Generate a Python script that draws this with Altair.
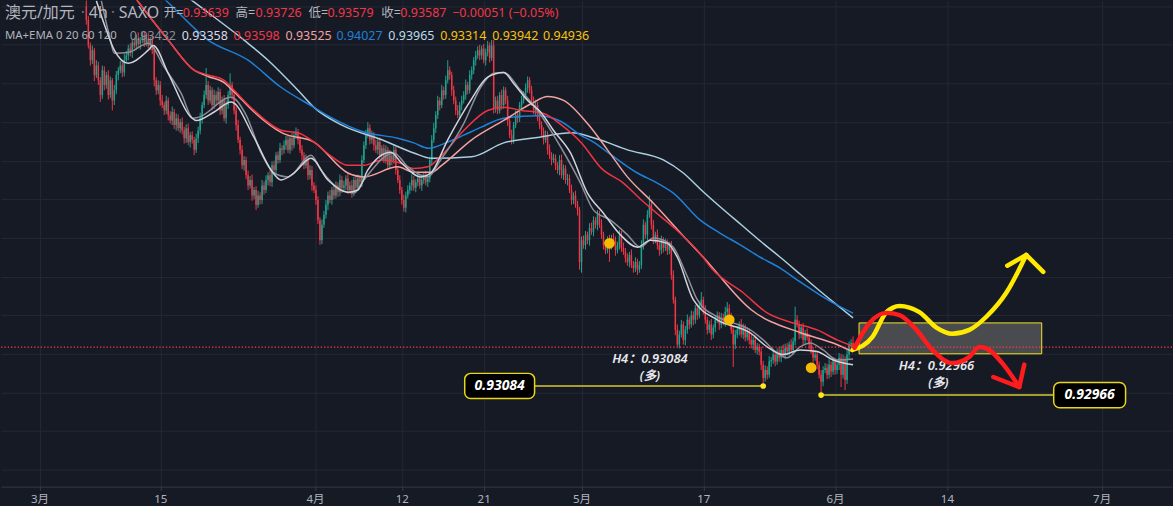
import altair as alt
import pandas as pd

FONT = "Noto Sans, Noto Sans CJK SC"
BG = "#161a25"
GRID = "#242835"
UP_COL = "#1fa38f"
DOWN_COL = "#f23645"
TXT = "#b2b5be"

# ---------------- candle data (prices in 1e-4 units) ----------------
FIRST_BAR = 42
FIRST_OPEN = 9800
close_pips = [
    9782, 9749, 9730, 9743, 9711, 9723, 9704, 9685, 9717, 9698,
    9711, 9685, 9704, 9678, 9691, 9711, 9717, 9723, 9714, 9730,
    9736, 9745, 9740, 9753, 9749, 9758, 9751, 9756, 9762, 9753,
    9758, 9749, 9756, 9743, 9704, 9691, 9698, 9678, 9672, 9665,
    9678, 9659, 9652, 9663, 9646, 9655, 9642, 9650, 9639, 9629,
    9642, 9624, 9633, 9627, 9614, 9629, 9639, 9655, 9672, 9685,
    9698, 9678, 9691, 9672, 9685, 9678, 9689, 9665, 9678, 9655,
    9672, 9685, 9698, 9685, 9665, 9646, 9627, 9614, 9594, 9601,
    9581, 9568, 9575, 9555, 9562, 9543, 9555, 9549, 9568, 9562,
    9575, 9581, 9572, 9594, 9588, 9607, 9601, 9616, 9614, 9620,
    9627, 9614, 9629, 9620, 9633, 9637, 9627, 9614, 9607, 9594,
    9601, 9581, 9588, 9568, 9562, 9549, 9523, 9497, 9517, 9530,
    9543, 9555, 9549, 9562, 9555, 9568, 9559, 9575, 9565, 9568,
    9577, 9562, 9568, 9559, 9575, 9565, 9577, 9572, 9601, 9620,
    9633, 9642, 9627, 9633, 9620, 9614, 9624, 9607, 9616, 9601,
    9614, 9594, 9607, 9601, 9614, 9588, 9575, 9562, 9549, 9539,
    9555, 9562, 9568, 9575, 9565, 9572, 9577, 9568, 9575, 9581,
    9572, 9577, 9601, 9627, 9642, 9659, 9678, 9672, 9691, 9685,
    9704, 9717, 9711, 9691, 9678, 9665, 9659, 9672, 9678, 9685,
    9698, 9691, 9711, 9717, 9730, 9736, 9743, 9736, 9745, 9730,
    9740, 9749, 9733, 9749, 9668, 9678, 9665, 9685, 9672, 9691,
    9678, 9652, 9633, 9627, 9646, 9659, 9655, 9672, 9678, 9685,
    9694, 9704, 9691, 9678, 9665, 9672, 9655, 9646, 9639, 9627,
    9633, 9614, 9607, 9601, 9603, 9594, 9588, 9601, 9581, 9590,
    9575, 9577, 9562, 9549, 9555, 9543, 9536, 9469, 9497, 9491,
    9504, 9497, 9513, 9508, 9523, 9517, 9530, 9517, 9504, 9491,
    9484, 9497, 9491, 9500, 9497, 9484, 9491, 9504, 9487, 9482,
    9474, 9469, 9478, 9465, 9461, 9469, 9459, 9465, 9491, 9517,
    9504, 9530, 9543, 9517, 9497, 9504, 9491, 9484, 9497, 9487,
    9493, 9484, 9491, 9452, 9420, 9381, 9362, 9375, 9388, 9368,
    9381, 9394, 9388, 9400, 9394, 9409, 9400, 9413, 9420, 9407,
    9394, 9381, 9388, 9375, 9384, 9394, 9400, 9388, 9397, 9391,
    9404, 9409, 9397, 9381, 9362, 9375, 9381, 9388, 9375, 9384,
    9371, 9378, 9368, 9362, 9368, 9355, 9359, 9353, 9336, 9319,
    9329, 9323, 9340, 9342, 9349, 9340, 9353, 9345, 9355, 9349,
    9358, 9353, 9362, 9355, 9366, 9394, 9388, 9375, 9384, 9368,
    9377, 9371, 9362, 9355, 9345, 9349, 9336, 9323, 9314, 9329,
    9332, 9323, 9336, 9327, 9340, 9329, 9336, 9345, 9323, 9342,
    9316, 9349, 9362, 9363.9, 9358.7,
]
wick_hi = [
    8, 5, 4, 6, 3, 7, 5, 4, 6, 5,
    4, 6, 5, 3, 7, 5, 4, 6, 5, 8,
    6, 5, 7, 4, 6, 5, 8, 4, 6, 5,
    5, 7, 4, 6, 5, 4, 6, 5, 7, 4,
    6, 4, 5, 7, 4, 6, 5, 4, 6, 5,
    5, 6, 4, 5, 4, 6, 5, 7, 4, 6,
    22, 5, 6, 4, 7, 5, 6, 4, 5, 7,
    6, 5, 15, 4, 6, 5, 7, 4, 6, 5,
    4, 6, 5, 7, 4, 5, 6, 4, 7, 5,
    6, 4, 7, 5, 6, 4, 5, 7, 4, 6,
    5, 6, 4, 7, 5, 6, 4, 5, 6, 4,
    7, 4, 6, 5, 4, 6, 5, 4, 7, 5,
    6, 5, 7, 4, 6, 5, 4, 7, 5, 6,
    4, 6, 5, 7, 4, 6, 5, 4, 6, 5,
    7, 8, 5, 6, 4, 7, 5, 6, 4, 5,
    6, 4, 7, 5, 6, 4, 5, 6, 4, 7,
    5, 6, 4, 7, 5, 4, 6, 5, 7, 4,
    6, 5, 4, 6, 7, 5, 6, 4, 7, 5,
    6, 13, 5, 4, 6, 5, 7, 4, 6, 5,
    7, 4, 6, 5, 4, 6, 5, 7, 4, 6,
    5, 6, 4, 7, 7, 5, 6, 4, 7, 5,
    4, 6, 5, 7, 4, 6, 5, 4, 6, 5,
    6, 5, 4, 6, 5, 7, 4, 6, 5, 4,
    6, 5, 7, 4, 6, 5, 4, 6, 7, 5,
    4, 6, 5, 7, 4, 6, 5, 4, 5, 6,
    5, 4, 6, 7, 5, 4, 6, 5, 7, 4,
    6, 5, 7, 4, 6, 5, 4, 6, 5, 7,
    5, 6, 4, 7, 5, 6, 4, 5, 6, 7,
    4, 6, 12, 5, 6, 4, 7, 5, 6, 4,
    6, 5, 4, 5, 6, 4, 7, 5, 6, 4,
    5, 7, 4, 6, 5, 4, 6, 5, 10, 4,
    6, 4, 5, 7, 4, 6, 5, 4, 6, 5,
    7, 8, 5, 6, 4, 6, 5, 4, 7, 5,
    4, 6, 5, 7, 4, 6, 5, 4, 6, 5,
    6, 5, 7, 4, 6, 5, 4, 6, 5, 7,
    5, 6, 4, 7, 5, 17, 6, 5, 4, 6,
    4, 6, 5, 7, 4, 6, 5, 4, 6, 5,
    6, 5, 7, 4, 6, 5, 4, 6, 5, 7,
    5, 6, 4, 5, 8.7,
]
wick_lo = [
    6, 4, 7, 5, 8, 4, 6, 9, 5, 7,
    5, 6, 4, 13, 6, 5, 7, 4, 6, 5,
    4, 6, 5, 7, 4, 6, 5, 7, 4, 6,
    5, 4, 6, 5, 8, 6, 5, 7, 4, 6,
    5, 7, 4, 6, 5, 7, 4, 6, 5, 7,
    6, 4, 7, 5, 7, 4, 6, 5, 7, 4,
    5, 6, 4, 7, 5, 6, 4, 6, 5, 4,
    7, 5, 4, 6, 5, 7, 4, 6, 5, 7,
    5, 6, 4, 7, 5, 7, 4, 6, 5, 6,
    4, 7, 5, 6, 4, 6, 5, 4, 7, 5,
    6, 4, 5, 7, 4, 5, 6, 4, 7, 5,
    4, 6, 5, 7, 4, 6, 5, 6, 5, 4,
    5, 7, 4, 6, 5, 4, 6, 5, 7, 4,
    6, 5, 4, 7, 5, 6, 4, 5, 6, 4,
    5, 4, 6, 5, 7, 4, 6, 5, 7, 4,
    5, 6, 4, 7, 5, 6, 4, 5, 6, 5,
    6, 4, 5, 7, 4, 6, 5, 4, 7, 5,
    4, 6, 5, 7, 4, 6, 5, 7, 4, 6,
    5, 4, 6, 7, 5, 6, 4, 5, 7, 4,
    6, 5, 4, 6, 5, 7, 4, 6, 5, 4,
    7, 5, 6, 4, 7, 6, 5, 4, 6, 5,
    5, 7, 4, 6, 5, 4, 6, 5, 7, 4,
    5, 6, 4, 7, 5, 6, 4, 5, 7, 6,
    4, 6, 5, 7, 4, 6, 5, 7, 4, 6,
    5, 7, 4, 6, 5, 4, 7, 10, 14, 5,
    6, 5, 7, 4, 6, 5, 7, 4, 5, 6,
    5, 4, 22, 6, 5, 7, 4, 6, 5, 4,
    6, 5, 7, 4, 6, 5, 7, 4, 5, 6,
    5, 7, 4, 6, 5, 4, 6, 7, 5, 6,
    4, 6, 5, 6, 5, 7, 3, 5, 4, 6,
    7, 5, 6, 4, 7, 5, 6, 4, 5, 6,
    5, 6, 4, 7, 5, 6, 4, 7, 5, 4,
    6, 5, 4, 5, 29, 6, 5, 7, 4, 6,
    5, 4, 6, 5, 7, 4, 6, 5, 7, 10.6,
    5, 6, 4, 7, 5, 6, 4, 5, 6, 4,
    6, 5, 7, 4, 6, 5, 4, 6, 5, 7,
    5, 4, 6, 5, 7, 4, 6, 5, 17.4, 6,
    4, 6, 5, 7, 4, 6, 5, 7, 16, 5,
    13, 5, 6, 4, 0.8,
]

# ---------------- moving averages (bar index, price 1e-4) ----------------
ma20_idx = [49.5, 53.5, 56, 63, 73, 81, 89.5, 95.5, 98, 114.5, 122, 129.5, 136, 143, 154.5, 159.5, 169.5,
            176, 181, 196, 203, 213, 219.5, 231, 239.5, 246, 251, 259.5, 268, 279.5, 289.5, 296, 304.5,
            313, 319.5, 326, 331, 336, 343, 348, 358, 366, 374.5, 381, 388, 393, 399.5, 404.5, 411, 418, 426]
ma20_val = [9807, 9762, 9739, 9740, 9752, 9721, 9687, 9655, 9656, 9682, 9659, 9610, 9584, 9579, 9607, 9588, 9562,
            9558, 9575, 9610, 9592, 9579, 9601, 9648, 9695, 9713, 9714, 9691, 9665, 9618, 9571, 9536, 9523,
            9504, 9488, 9500, 9497, 9488, 9450, 9420, 9398, 9390, 9381, 9368, 9351, 9345, 9359, 9364, 9355, 9342, 9343.2]
ema20_idx = [47, 52, 56, 63, 73, 75.5, 83, 94.5, 97, 106, 114.5, 126, 134.5, 139.5, 146, 154.5, 163, 173, 178,
             183, 194.5, 199.5, 209.5, 214.5, 223, 234.5, 243, 251, 256, 263, 269.5, 276, 284.5, 293, 301,
             309.5, 318, 324.5, 333, 338, 346, 358, 374.5, 383, 391, 399.5, 408, 416, 426]
ema20_val = [9807, 9769, 9743, 9726, 9743, 9749, 9713, 9656, 9652, 9663, 9676, 9630, 9588, 9575, 9584, 9603, 9575,
             9559, 9562, 9588, 9611, 9598, 9579, 9584, 9627, 9678, 9708, 9714, 9700, 9678, 9663, 9639, 9610,
             9558, 9532, 9504, 9488, 9497, 9493, 9475, 9420, 9394, 9377, 9359, 9349, 9355, 9353, 9342, 9335.8]
ma60_idx = [60, 75, 83, 96, 103, 111, 116, 126, 140, 148, 156, 165, 173, 181, 190, 198, 206, 213, 220, 231,
            243, 251, 260, 271, 280, 290, 300, 311, 320, 330, 336, 350, 355, 371, 383, 396, 408, 418, 426]
ma60_val = [9833, 9782, 9756, 9717, 9711, 9704, 9691, 9665, 9639, 9636, 9624, 9605, 9594, 9594, 9601, 9598,
            9590, 9592, 9607, 9639, 9665, 9669, 9665, 9661, 9646, 9623, 9590, 9571, 9549, 9527, 9514, 9478,
            9461, 9429, 9403, 9390, 9381, 9368, 9359.8]
ema60_idx = [60, 75, 83, 96, 103, 111, 116, 126, 140, 156, 173, 181, 198, 206, 215, 220, 235, 251, 265, 273,
             281, 293, 303, 313, 326, 343, 351, 375, 400, 416, 426]
ema60_val = [9833, 9782, 9756, 9717, 9709, 9701, 9689, 9663, 9636, 9624, 9584, 9579, 9592, 9585, 9585, 9594,
             9627, 9652, 9674, 9683, 9678, 9648, 9614, 9579, 9545, 9497, 9475, 9407, 9377, 9364, 9352.5]
ma120_idx = [64.5, 82, 103, 123, 139.5, 156, 164.5, 181, 198, 206, 213.5, 223, 231, 239.5, 251, 268, 279.5,
             289.5, 296, 303, 318, 328, 336, 349.5, 359.5, 369.5, 379.5, 389.5, 399.5, 409.5, 419.5, 426]
ma120_val = [9846, 9807, 9756, 9730, 9695, 9669, 9656, 9637, 9629, 9623, 9616, 9624, 9633, 9643, 9655, 9658,
             9651, 9633, 9624, 9611, 9584, 9571, 9558, 9523, 9506, 9491, 9475, 9461, 9443, 9426, 9411, 9402.7]
ema120_idx = [75, 95, 121, 133, 148, 156, 170, 190, 206, 215, 235, 251, 268, 285, 298, 313, 331, 341, 350,
              360, 370, 380, 390, 400, 410, 420, 426]
ema120_val = [9846, 9807, 9756, 9730, 9691, 9669, 9646, 9627, 9610, 9603, 9605, 9623, 9630, 9636, 9628, 9614,
              9601, 9584, 9562, 9539, 9517, 9495, 9474, 9452, 9430, 9409, 9396.5]

# ---------------- axis ----------------
tick_idx = [18.5, 79, 156.5, 200, 241, 290, 351, 417, 473, 550.5]
tick_lbl = ["3月", "15", "4月", "12", "21", "5月", "17", "6月", "14", "7月"]
grid_prices = [0.920, 0.925, 0.930, 0.935, 0.940, 0.945, 0.950, 0.955, 0.960, 0.965, 0.970, 0.975, 0.980]

# ---------------- annotations ----------------
last_close = 0.93587
zone_idx = [429, 520.5]
zone_price = [0.9350, 0.9390]
level_price = [0.93084, 0.92966]
level_text = ["0.93084", "0.92966"]
level_bar = [381, 410]
level_box_left = [231.5, 526.5]
level_box_right = [266.5, 562.5]
note_idx = [324.25, 467.75]
note_price = [0.9343, 0.9334]
note_text = ["H4：0.93084", "H4：0.92966"]
note2_idx = [324.25, 468.75]
note2_price = [0.9321, 0.9312]
marker_idx = [304, 364, 405]
marker_price = [0.9493, 0.9394, 0.9332]
yel_idx = [425.75, 435.75, 442.75, 449.25, 459.25, 467.75, 475.75, 484.25, 492.75, 502.75, 512.75]
yel_price = [0.9355, 0.9372, 0.9404, 0.9412, 0.9404, 0.9384, 0.9376, 0.9381, 0.9398, 0.9429, 0.9478]
yel_arrow_idx = [503.25, 512.75, 521.25]
yel_arrow_price = [0.9464, 0.9478, 0.9456]
red_idx = [426.75, 434.25, 442.75, 449.25, 457.75, 465.75, 475.75, 484.25, 489.25, 494.25, 500.75, 509.25]
red_price = [0.9358, 0.9390, 0.9403, 0.9400, 0.9381, 0.9355, 0.9338, 0.9346, 0.9359, 0.9355, 0.9338, 0.9307]
red_arrow_idx = [496.25, 509.25, 511.75]
red_arrow_price = [0.9320, 0.9307, 0.9336]

BOX_HALF = 0.00163

# ---------------- build tables ----------------
rows = []
prev = FIRST_OPEN
for k, (c, wh, wl) in enumerate(zip(close_pips, wick_hi, wick_lo)):
    o = prev
    rows.append(dict(i=FIRST_BAR + k, o=o / 1e4, c=c / 1e4,
                     h=(max(o, c) + wh) / 1e4, l=(min(o, c) - wl) / 1e4,
                     d="up" if c >= o else "down"))
    prev = c
candles = pd.DataFrame(rows)

XS = alt.Scale(domain=[-0.75, 585.75], nice=False, zero=False)
YS = alt.Scale(domain=[0.917816, 0.980737], nice=False, zero=False)

vals = ",".join(str(v) for v in tick_idx)
labs = ",".join("'" + s + "'" for s in tick_lbl)
xaxis = alt.Axis(values=tick_idx, labelExpr=f"[{labs}][indexof([{vals}], datum.value)]",
                 title=None, grid=True, gridColor=GRID, gridWidth=1,
                 domainColor="#363a45", tickColor="#363a45", tickSize=4,
                 labelColor=TXT, labelFont=FONT, labelFontSize=11.5, labelPadding=3,
                 labelOverlap=False, labelFlush=False)
yaxis = alt.Axis(values=grid_prices, labels=False, ticks=False, domain=False, title=None,
                 grid=True, gridColor=GRID, gridWidth=1)


def X(f):
    return alt.X(f, scale=XS, axis=xaxis)


def Y(f):
    return alt.Y(f, scale=YS, axis=yaxis)


cscale = alt.Scale(domain=["up", "down"], range=[UP_COL, DOWN_COL])
wicks = alt.Chart(candles).mark_rule(strokeWidth=1, clip=True).encode(
    x=X("i:Q"), y=Y("l:Q"), y2="h:Q",
    color=alt.Color("d:N", scale=cscale, legend=None))
bodies = alt.Chart(candles).mark_rule(strokeWidth=1.5, clip=True).encode(
    x=X("i:Q"), y=Y("o:Q"), y2="c:Q",
    color=alt.Color("d:N", scale=cscale, legend=None))

layers = [wicks, bodies]

ma_lines = [
    (ema120_idx, ema120_val, "#a9cfe0"),
    (ma120_idx, ma120_val, "#1e80d8"),
    (ema60_idx, ema60_val, "#f2a29f"),
    (ma60_idx, ma60_val, "#ee3342"),
    (ma20_idx, ma20_val, "#8b8e97"),
    (ema20_idx, ema20_val, "#d0d3da"),
]
for idx, val, col in ma_lines:
    df = pd.DataFrame({"i": idx, "v": [v / 1e4 for v in val]})
    layers.append(alt.Chart(df).mark_line(strokeWidth=1.5, clip=True, interpolate="monotone", color=col).encode(
        x=X("i:Q"), y=Y("v:Q"), order="i:Q"))

# zone box: grey fill, then yellow outline
zone_df = pd.DataFrame({"a": [zone_idx[0]], "b": [zone_idx[1]], "p1": [zone_price[0]], "p2": [zone_price[1]]})
layers.append(alt.Chart(zone_df).mark_rect(color="#4a4b4f", opacity=1).encode(
    x=X("a:Q"), x2="b:Q", y=Y("p1:Q"), y2="p2:Q"))
layers.append(alt.Chart(zone_df).mark_rect(filled=False, stroke="#f7e624", strokeWidth=1, opacity=1).encode(
    x=X("a:Q"), x2="b:Q", y=Y("p1:Q"), y2="p2:Q"))

# current price line
pl_df = pd.DataFrame({"p": [last_close]})
layers.append(alt.Chart(pl_df).mark_rule(color="#ff3b4b", strokeWidth=1.3, strokeDash=[1.3, 2]).encode(
    y=Y("p:Q")))

# leader lines to the lows
lead_df = pd.DataFrame({
    "a": [level_box_right[0], level_bar[1]],
    "b": [level_bar[0], level_box_left[1]],
    "p": level_price})
layers.append(alt.Chart(lead_df).mark_rule(color="#a69e2c", strokeWidth=2).encode(
    x=X("a:Q"), x2="b:Q", y=Y("p:Q")))

dot_df = pd.DataFrame({"i": level_bar, "p": level_price})
layers.append(alt.Chart(dot_df).mark_circle(color="#ffe81a", size=32, opacity=1).encode(
    x=X("i:Q"), y=Y("p:Q")))

box_df = pd.DataFrame({
    "a": level_box_left, "b": level_box_right,
    "p1": [p - BOX_HALF for p in level_price], "p2": [p + BOX_HALF for p in level_price],
    "m": [(l + r) / 2 for l, r in zip(level_box_left, level_box_right)],
    "p": level_price, "t": level_text})
layers.append(alt.Chart(box_df).mark_rect(color="#000000", opacity=1, cornerRadius=6).encode(
    x=X("a:Q"), x2="b:Q", y=Y("p1:Q"), y2="p2:Q"))
layers.append(alt.Chart(box_df).mark_rect(filled=False, stroke="#e9d51c", strokeWidth=1.5, cornerRadius=6,
                                          opacity=1).encode(
    x=X("a:Q"), x2="b:Q", y=Y("p1:Q"), y2="p2:Q"))
layers.append(alt.Chart(box_df).mark_text(font=FONT, fontSize=14, fontWeight="bold", fontStyle="italic",
                                          color="#ffffff", baseline="middle").encode(
    x=X("m:Q"), y=Y("p:Q"), text="t:N"))

note_df = pd.DataFrame({"i": note_idx, "p": note_price, "t": note_text})
layers.append(alt.Chart(note_df).mark_text(font=FONT, fontSize=13, fontWeight=600, fontStyle="italic",
                                           color="#e8e8ec", baseline="middle").encode(
    x=X("i:Q"), y=Y("p:Q"), text="t:N"))
note2_df = pd.DataFrame({"i": note2_idx, "p": note2_price, "t": ["(多)", "(多)"]})
layers.append(alt.Chart(note2_df).mark_text(font=FONT, fontSize=12.5, fontWeight=600, fontStyle="italic",
                                            color="#e8e8ec", baseline="middle").encode(
    x=X("i:Q"), y=Y("p:Q"), text="t:N"))

mk_df = pd.DataFrame({"i": marker_idx, "p": marker_price})
layers.append(alt.Chart(mk_df).mark_circle(color="#f5bb00", size=115, opacity=1).encode(
    x=X("i:Q"), y=Y("p:Q")))

# hand-drawn scenario strokes
for idx, pr, col, interp in [
    (yel_idx, yel_price, "#ffea00", "monotone"),
    (yel_arrow_idx, yel_arrow_price, "#ffea00", "linear"),
    (red_idx, red_price, "#ff1c1c", "monotone"),
    (red_arrow_idx, red_arrow_price, "#ff1c1c", "linear"),
]:
    df = pd.DataFrame({"i": idx, "p": pr, "k": list(range(len(idx)))})
    layers.append(alt.Chart(df).mark_line(color=col, strokeWidth=4.5, strokeCap="round", strokeJoin="round",
                                          interpolate=interp).encode(
        x=X("i:Q"), y=Y("p:Q"), order="k:Q"))

# header legend text
one = pd.DataFrame({"z": [0]})
hdr1 = [("澳元/加元", 4, TXT, 16), ("·", 80, "#6a6d78", 16), ("4h", 88, TXT, 16), ("·", 110, "#6a6d78", 16),
        ("SAXO", 118, TXT, 16), ("开=", 163, TXT, 12.5), ("0.93639", 182, "#f23645", 12.5),
        ("高=", 235, TXT, 12.5), ("0.93726", 255, "#f23645", 12.5), ("低=", 308, TXT, 12.5),
        ("0.93579", 327, "#f23645", 12.5), ("收=", 381, TXT, 12.5), ("0.93587", 400, "#f23645", 12.5),
        ("−0.00051 (−0.05%)", 452, "#f23645", 12.5)]
hdr2 = [("MA+EMA 0 20 60 120", 4, TXT, 11.4), ("0.93432", 129, "#8b8e97", 12.5), ("0.93358", 181, "#d9dbe2", 12.5),
        ("0.93598", 233, "#f23645", 12.5), ("0.93525", 285, "#f2a29f", 12.5), ("0.94027", 336, "#1e80d8", 12.5),
        ("0.93965", 388, "#b7dcea", 12.5), ("0.93314", 440, "#f9c20a", 12.5), ("0.93942", 492, "#f9c20a", 12.5),
        ("0.94936", 543, "#f9c20a", 12.5)]
for t, px, col, fs in hdr1:
    layers.append(alt.Chart(one).mark_text(font=FONT, fontSize=fs, color=col, align="left", baseline="middle").encode(
        x=alt.value(px), y=alt.value(13), text=alt.value(t)))
for t, px, col, fs in hdr2:
    layers.append(alt.Chart(one).mark_text(font=FONT, fontSize=fs, color=col, align="left", baseline="middle").encode(
        x=alt.value(px), y=alt.value(36), text=alt.value(t)))

chart = alt.layer(*layers).properties(
    width=1173, height=487, padding=0, background=BG
).configure_view(strokeWidth=0)

chart.save("out.html", embed_options={"renderer": "svg", "actions": False})
